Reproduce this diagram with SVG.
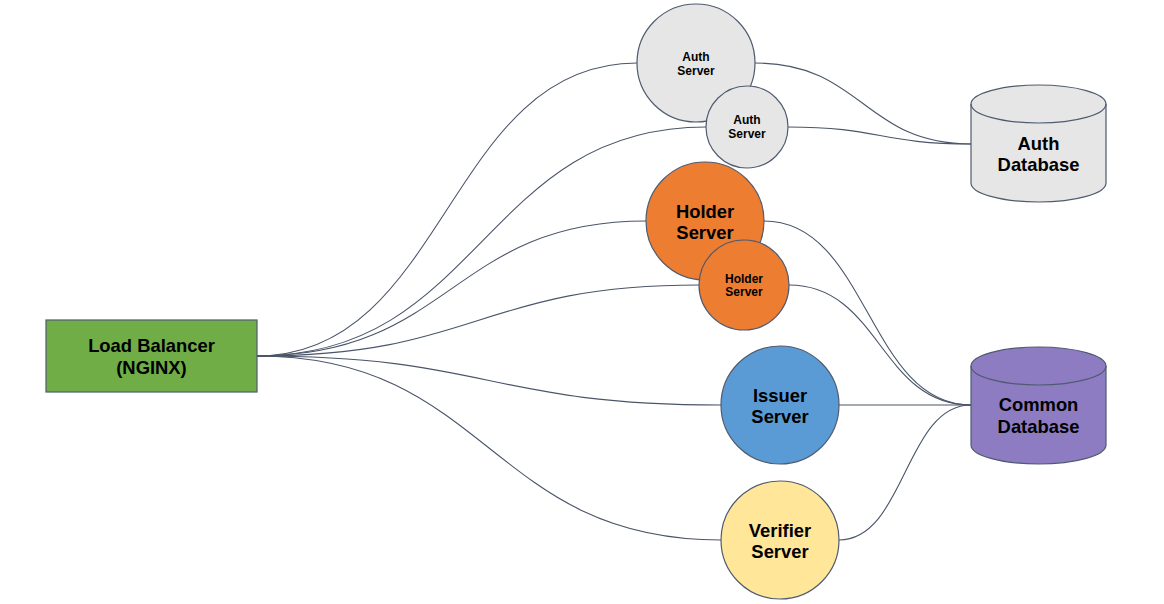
<svg xmlns="http://www.w3.org/2000/svg" width="1164" height="604" viewBox="0 0 1164 604">
<style>
.c{fill:none;stroke:#4a5568;stroke-width:1.1}
.n{stroke:#4f5b70;stroke-width:1.2}
.t{font-family:"Liberation Sans",Arial,sans-serif;font-weight:bold;fill:#000;text-anchor:middle}
.L{font-size:18.4px}
.S{font-size:12px}
</style>
<rect width="1164" height="604" fill="#fff"/>
<g id="connectors">
<path class="c" d="M257,356 C447,356 447,63 637,63"/>
<path class="c" d="M257,356 C482,356 482,127 706,127"/>
<path class="c" d="M257,356 C452,356 452,221 646,221"/>
<path class="c" d="M257,356 C478,356 478,285 699,285"/>
<path class="c" d="M257,356 C489,356 489,405 721,405"/>
<path class="c" d="M257,356 C489,356 489,540 721,540"/>
<path class="c" d="M755,63 C863,63 863,144 971,144"/>
<path class="c" d="M788,127 C880,127 880,144 971,144"/>
<path class="c" d="M764,221 C868,221 868,405 971,405"/>
<path class="c" d="M789,285 C880,285 880,405 971,405"/>
<path class="c" d="M839,405 L971,405"/>
<path class="c" d="M839,540 C905,540 905,405 971,405"/>
</g>
<g id="load-balancer">
<rect class="n" x="46" y="320" width="211" height="72" fill="#70AD47"/>
<text class="t L" x="151.5" y="352">Load Balancer</text>
<text class="t L" x="151.5" y="374">(NGINX)</text>
</g>
<g id="auth-server-1">
<circle class="n" cx="696" cy="63" r="59" fill="#E7E6E6"/>
<text class="t S" x="696" y="61">Auth</text>
<text class="t S" x="696" y="75">Server</text>
</g>
<g id="auth-server-2">
<circle class="n" cx="747" cy="127" r="41" fill="#E7E6E6"/>
<text class="t S" x="747" y="124">Auth</text>
<text class="t S" x="747" y="138">Server</text>
</g>
<g id="holder-server-1">
<circle class="n" cx="705" cy="221" r="59" fill="#ED7D31"/>
<text class="t L" x="705" y="218">Holder</text>
<text class="t L" x="705" y="239">Server</text>
</g>
<g id="holder-server-2">
<circle class="n" cx="744" cy="285" r="45" fill="#ED7D31"/>
<text class="t S" x="744" y="283">Holder</text>
<text class="t S" x="744" y="296">Server</text>
</g>
<g id="issuer-server">
<circle class="n" cx="780" cy="405" r="59" fill="#5B9BD5"/>
<text class="t L" x="780" y="402">Issuer</text>
<text class="t L" x="780" y="423">Server</text>
</g>
<g id="verifier-server">
<circle class="n" cx="780" cy="540" r="59" fill="#FFE699"/>
<text class="t L" x="780" y="537">Verifier</text>
<text class="t L" x="780" y="558">Server</text>
</g>
<g id="auth-database">
<path class="n" fill="#E7E6E6" d="M971,104 A67.5,19 0 0 1 1106,104 L1106,183 A67.5,19 0 0 1 971,183 Z"/>
<path class="n" fill="none" d="M971,104 A67.5,19 0 0 0 1106,104"/>
<text class="t L" x="1038.5" y="150">Auth</text>
<text class="t L" x="1038.5" y="171">Database</text>
</g>
<g id="common-database">
<path class="n" fill="#8E7CC3" d="M971,366 A67.5,19 0 0 1 1106,366 L1106,445 A67.5,19 0 0 1 971,445 Z"/>
<path class="n" fill="none" d="M971,366 A67.5,19 0 0 0 1106,366"/>
<text class="t L" x="1038.5" y="411">Common</text>
<text class="t L" x="1038.5" y="433">Database</text>
</g>
</svg>
